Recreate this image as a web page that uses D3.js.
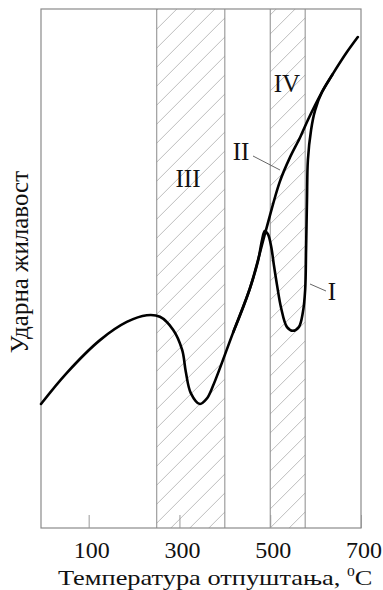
<!DOCTYPE html>
<html><head><meta charset="utf-8">
<script src="https://cdn.jsdelivr.net/npm/d3@7"></script>
<style>
html,body{margin:0;padding:0;background:#fff;}
svg{display:block;}
text{font-family:"Liberation Serif","Times New Roman",serif;fill:#111;}
</style></head>
<body>
<script>
// ---- data ----
const xTicks = [100, 300, 500, 700];
const xTickLabels = ["100", "300", "500", "700"];
const xDomain = [-5, 700];
const yDomain = [0, 100];
const bands = [
  {label: "III", from: 250, to: 400},
  {label: "IV", from: 500, to: 577}
];
// Curve I (temperature, impact toughness in arbitrary units)
const curveI_T = [-5, 52, 125, 184, 228, 257, 286, 306, 314, 325, 345, 360, 374, 418, 455, 473, 482, 488, 495, 502, 508, 515, 524, 537, 550, 563, 572, 577, 579, 581, 583, 590, 599, 614, 638, 669, 693];
const curveI_V = [23.9, 29.9, 36.2, 39.7, 41.0, 40.7, 38.2, 34.3, 30.1, 26.0, 23.9, 24.9, 27.4, 37.6, 46.1, 51.4, 55.5, 57.2, 56.6, 54.3, 50.7, 46.8, 42.4, 38.7, 38.0, 38.7, 41.6, 45.9, 53.6, 63.2, 70.9, 76.7, 80.5, 84.0, 87.5, 91.7, 94.6];
// Curve II
const curveII_T = [418, 455, 490, 521, 544, 566, 583, 599, 614, 638];
const curveII_V = [37.6, 46.1, 57.2, 66.7, 71.5, 75.3, 78.6, 81.5, 84.0, 87.5];
const yLabel = "Ударна жилавост";
const xLabel = "Температура отпуштања, ";

// ---- layout ----
const W = 383, H = 590;
const mLeft = 41, mRight = 361, mTop = 9, mBottom = 528;
const svg = d3.select("body").append("svg").attr("width", W).attr("height", H);
const x = d3.scaleLinear().domain(xDomain).range([mLeft, mRight]);
const y = d3.scaleLinear().domain(yDomain).range([mBottom, mTop]);

// hatch bands
const defs = svg.append("defs");
bands.forEach((b, i) => {
  const x0 = x(b.from), x1 = x(b.to);
  defs.append("clipPath").attr("id", "clip" + i)
    .append("rect").attr("x", x0).attr("y", mTop).attr("width", x1 - x0).attr("height", mBottom - mTop);
  const g = svg.append("g").attr("clip-path", `url(#clip${i})`);
  const step = 19;
  for (let c = mTop - 200; c < mBottom + 200; c += step) {
    g.append("line").attr("x1", x0 - 10).attr("y1", c + (x1 - x0) + 10)
      .attr("x2", x1 + 10).attr("y2", c - 10)
      .attr("stroke", "#bdbdbd").attr("stroke-width", 1);
  }
  svg.append("line").attr("x1", x0).attr("x2", x0).attr("y1", mTop).attr("y2", mBottom).attr("stroke", "#8a8a8a").attr("stroke-width", 1);
  svg.append("line").attr("x1", x1).attr("x2", x1).attr("y1", mTop).attr("y2", mBottom).attr("stroke", "#8a8a8a").attr("stroke-width", 1);
});

// frame
svg.append("rect").attr("x", mLeft).attr("y", mTop).attr("width", mRight - mLeft).attr("height", mBottom - mTop)
  .attr("fill", "none").attr("stroke", "#8a8a8a").attr("stroke-width", 1.2);

// ticks (inside, bottom)
const xAxis = d3.axisTop(x).tickValues(xTicks).tickSize(13).tickFormat("");
const ax = svg.append("g").attr("transform", `translate(0,${mBottom})`).call(xAxis);
ax.select(".domain").remove();
ax.selectAll(".tick line").attr("stroke", "#999");

// tick labels
svg.append("g").selectAll("text").data(xTicks).join("text")
  .attr("x", d => x(d) + 3).attr("y", 558).attr("text-anchor", "middle")
  .attr("font-size", 24).text((d, i) => xTickLabels[i]);

// curves
const line = d3.line().x(d => x(d[0])).y(d => y(d[1])).curve(d3.curveCatmullRom.alpha(0.5));
svg.append("path").datum(d3.zip(curveII_T, curveII_V)).attr("d", line)
  .attr("fill", "none").attr("stroke", "#000").attr("stroke-width", 2.6).attr("stroke-linejoin", "round");
svg.append("path").datum(d3.zip(curveI_T, curveI_V)).attr("d", line)
  .attr("fill", "none").attr("stroke", "#000").attr("stroke-width", 2.6).attr("stroke-linejoin", "round").attr("stroke-linecap", "round");

// band labels
svg.append("text").attr("x", 188).attr("y", 187).attr("text-anchor", "middle").attr("font-size", 25).text(bands[0].label);
svg.append("text").attr("x", 287).attr("y", 92).attr("text-anchor", "middle").attr("font-size", 25).text(bands[1].label);

// curve labels with leaders
svg.append("text").attr("x", 241).attr("y", 160).attr("text-anchor", "middle").attr("font-size", 25).text("II");
svg.append("line").attr("x1", 253).attr("y1", 156).attr("x2", 280).attr("y2", 170).attr("stroke", "#666").attr("stroke-width", 1);
svg.append("text").attr("x", 332).attr("y", 300).attr("text-anchor", "middle").attr("font-size", 25).text("I");
svg.append("line").attr("x1", 310).attr("y1", 284).attr("x2", 326).attr("y2", 291).attr("stroke", "#666").attr("stroke-width", 1);

// axis titles
svg.append("text").attr("transform", "translate(28,262) rotate(-90)").attr("text-anchor", "middle")
  .attr("font-size", 25).text(yLabel);
const xg = svg.append("g");
const xt = xg.append("text").attr("x", 0).attr("y", 0).attr("font-size", 22);
xt.append("tspan").text(xLabel);
xt.append("tspan").attr("font-size", 13).attr("dy", -9).text("0");
xt.append("tspan").attr("dy", 9).text("C");
const bw = xt.node().getBBox().width;
const sx = Math.min(1.2, 318 / bw);
xg.attr("transform", `translate(58,585) scale(${sx},1)`);
</script>
</body></html>
